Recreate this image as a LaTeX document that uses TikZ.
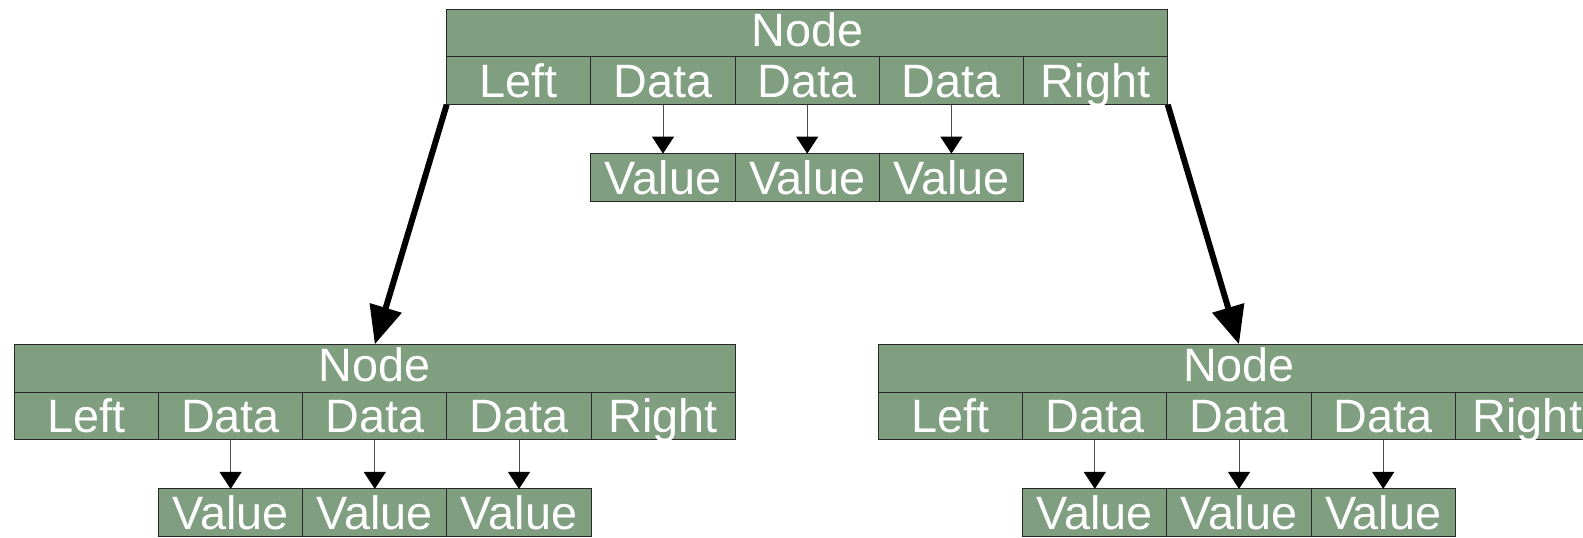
\documentclass[tikz,border=0pt]{standalone}
\usepackage{fontspec}
\setmainfont{Liberation Sans}
\usetikzlibrary{arrows.meta}
\definecolor{nodegreen}{RGB}{128,158,128}
\definecolor{rim}{RGB}{40,40,40}
\tikzset{
  cell/.style={draw=rim, line width=0.5pt, fill=nodegreen, text=white,
    font=\fontsize{23.4}{27}\selectfont, minimum width=72.1pt, minimum height=23.9pt,
    inner sep=0pt, outer sep=0pt, text height=16.6pt, text depth=0pt, anchor=north west},
  headcell/.style={cell, minimum width=360.5pt, text height=13.4pt},
  datalink/.style={draw=black!70, line width=0.5pt,
    -{Triangle[length=8.5pt,width=11pt,color=black]}},
  childlink/.style={draw=black, line width=3pt, -{Triangle[length=19pt,width=16pt]}},
}
% one tree node: header, five fields, three values hanging from the data fields
\newcommand\treenode[3]{%
  \node[headcell] (#1-head) at (#2,#3) {Node};
  \node[cell] (#1-left)  at (#1-head.south west) {Left};
  \node[cell] (#1-d1)    at (#1-left.north east) {Data};
  \node[cell] (#1-d2)    at (#1-d1.north east) {Data};
  \node[cell] (#1-d3)    at (#1-d2.north east) {Data};
  \node[cell] (#1-right) at (#1-d3.north east) {Right};
  \node[cell] (#1-v1) at ([yshift=-24.5pt]#1-d1.south west) {Value};
  \node[cell] (#1-v2) at (#1-v1.north east) {Value};
  \node[cell] (#1-v3) at (#1-v2.north east) {Value};
  \draw[datalink] (#1-d1.south) -- (#1-v1.north);
  \draw[datalink] (#1-d2.south) -- (#1-v2.north);
  \draw[datalink] (#1-d3.south) -- (#1-v3.north);
}
\begin{document}
\begin{tikzpicture}[x=0.5pt, y=-0.5pt]
  \useasboundingbox (0,0) rectangle (1583,537);
  \clip (0,0) rectangle (1583,537);
  \treenode{top}{446.7}{9}
  \treenode{lt}{14.3}{344.3}
  \treenode{rt}{878.5}{344.3}
  \draw[childlink] (top-left.south west) -- (lt-head.north);
  \draw[childlink] (top-right.south east) -- (rt-head.north);
\end{tikzpicture}
\end{document}
